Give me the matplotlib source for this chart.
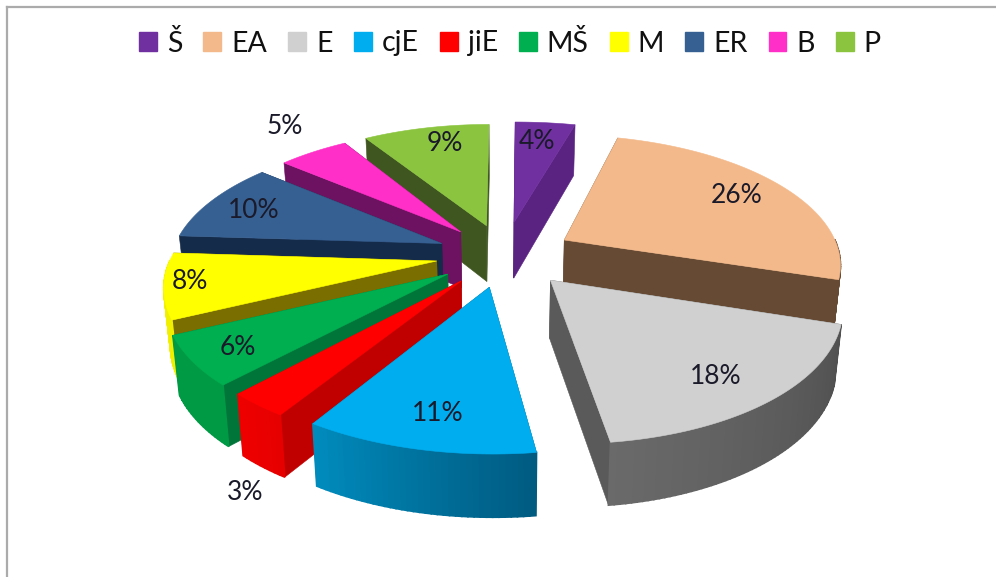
import numpy as np
import matplotlib
matplotlib.use("Agg")
import matplotlib.pyplot as plt
from matplotlib.patches import Patch, Polygon

categories = ["Š", "EA", "E", "cjE", "jiE", "MŠ", "M", "ER", "B", "P"]
shares = [4, 26, 18, 11, 3, 6, 8, 10, 5, 9]

top_colors = ["#7030A0", "#F4B98A", "#D0D0D0", "#00ADEF", "#FF0000",
              "#00AF50", "#FFFF00", "#376092", "#FF2FC8", "#8BC53F"]
cut_colors = ["#5A2382", "#664A33", "#5A5A5A", "#005C80", "#C00000",
              "#00753A", "#7A6E00", "#152B4A", "#6D1260", "#3F5620"]
rim_start = ["#5A2382", "#664A33", "#505050", "#005A80", "#E60000",
             "#009A45", "#F0F000", "#152B4A", "#6D1260", "#3F5620"]
rim_end = ["#5A2382", "#664A33", "#6A6A6A", "#008CBE", "#F00000",
           "#009A45", "#F0F000", "#152B4A", "#6D1260", "#3F5620"]
explode = [0.27, 0.25, 0.25, 0.25, 0.25, 0.25, 0.25, 0.25, 0.25, 0.25]
arc_shift = [0.011, 0.02, 0.025, 0.02, 0.005, 0.0, 0.02, 0.0, 0.01, 0.0]
arc_scale = [1.05, 0.98, 0.98, 1.0, 0.98, 0.98, 0.98, 0.98, 0.98, 0.98]
label_r = [0.80, 0.80, 0.80, 0.80, 1.35, 0.83, 0.87, 0.79, 1.31, 0.82]
label_da = [0, -1, 1, -2, -13, -1, 1, 0, 4, 3]
draw_order = [9, 0, 8, 7, 1, 6, 5, 2, 4, 3]

CX, CY, R, Q, K = 505.0, 255.0, 276.0, 0.46, 0.166


def project(x, v, bottom=False):
    x, v = np.asarray(x, float), np.asarray(v, float)
    s = 1.0 / (1.0 - K * v)
    X = CX + R * x * s
    Y = CY + R * Q * v * s
    if bottom:
        X = CX + (X - CX) * 0.98
        Y = Y + 57 + 5 * v
    return X, Y


plt.rcParams["font.family"] = ["Lato", "DejaVu Sans"]
fig = plt.figure(figsize=(9.96, 5.77), dpi=100)
ax = fig.add_axes([7 / 996, 0, 989 / 996, 570 / 577])
ax.set_xlim(7, 996)
ax.set_ylim(577, 7)
ax.set_xticks([])
ax.set_yticks([])
for side in ("right", "bottom"):
    ax.spines[side].set_visible(False)
for side in ("left", "top"):
    ax.spines[side].set_color("#ABABAB")
    ax.spines[side].set_linewidth(1.6)

total = sum(shares)
edges = np.cumsum([0] + shares) / total * 360.0


def hex_rgb(c):
    return np.array(matplotlib.colors.to_rgb(c))


for i in draw_order:
    a0, a1 = edges[i], edges[i + 1]
    mid = np.radians((a0 + a1) / 2)
    ox, ov = explode[i] * np.sin(mid), -explode[i] * np.cos(mid)
    ang = np.radians(np.linspace(a0, a1, max(8, int(a1 - a0))))
    xs = ox + arc_shift[i] + arc_scale[i] * np.sin(ang)
    vs = ov - np.cos(ang)

    faces = []
    for j in range(len(ang) - 1):
        if np.cos((ang[j] + ang[j + 1]) / 2) > 0.0:
            continue  # this part of the rim faces away from the viewer
        t = (j + 0.5) / (len(ang) - 1)
        col = hex_rgb(rim_start[i]) * (1 - t) + hex_rgb(rim_end[i]) * t
        faces.append(((vs[j] + vs[j + 1]) / 2, xs[j:j + 2], vs[j:j + 2], col, 1.2))
    for k in (0, -1):
        faces.append(((vs[k] + ov) / 2 - 0.01, np.array([ox, xs[k]]),
                      np.array([ov, vs[k]]), hex_rgb(cut_colors[i]), 0.4))
    for _, fx, fv, col, lw in sorted(faces, key=lambda f: f[0]):
        X0, Y0 = project(fx, fv)
        X1, Y1 = project(fx, fv, bottom=True)
        pts = np.column_stack([np.r_[X0, X1[::-1]], np.r_[Y0, Y1[::-1]]])
        ax.add_patch(Polygon(pts, closed=True, facecolor=col, edgecolor=col,
                             linewidth=lw, zorder=2))
    X, Y = project(np.r_[ox, xs], np.r_[ov, vs])
    ax.add_patch(Polygon(np.column_stack([X, Y]), closed=True,
                         facecolor=top_colors[i], edgecolor=top_colors[i],
                         linewidth=0.4, zorder=2))

for i, share in enumerate(shares):
    m = np.radians((edges[i] + edges[i + 1]) / 2)
    a = m + np.radians(label_da[i])
    lx = explode[i] * np.sin(m) + label_r[i] * np.sin(a)
    lv = -explode[i] * np.cos(m) - label_r[i] * np.cos(a)
    X, Y = project(lx, lv)
    ax.text(X, Y + 1, f"{share}%", ha="center", va="center", fontsize=19,
            color="#1A1A2A", zorder=5)

handles = [Patch(facecolor=c, edgecolor=c) for c in top_colors]
ax.legend(handles, categories, loc="center", bbox_to_anchor=(510, 43),
          bbox_transform=ax.transData, ncols=len(categories), frameon=False,
          fontsize=20.5, handlelength=0.63, handleheight=0.63, handletextpad=0.35,
          columnspacing=0.74, borderpad=0, labelcolor="#111111")

fig.savefig("out.png", dpi=100, facecolor="white")
